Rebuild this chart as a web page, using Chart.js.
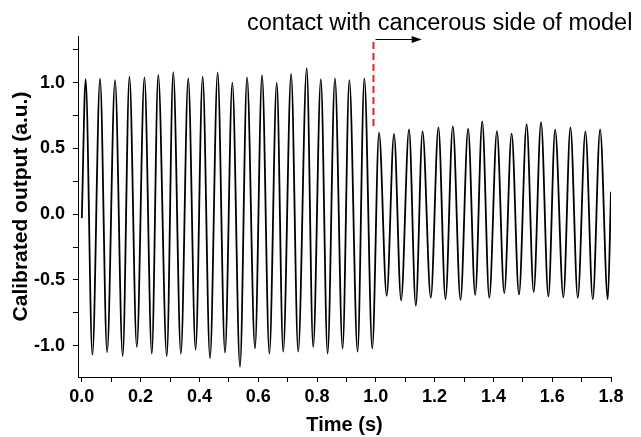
<!DOCTYPE html>
<html>
<head>
<meta charset="utf-8">
<script src="https://cdn.jsdelivr.net/npm/chart.js@4/dist/chart.umd.min.js"></script>
<style>
  body { margin: 0; background: #fff; }
  #wrap { width: 641px; height: 437px; }
</style>
</head>
<body>
<div id="wrap"><canvas id="signalChart" width="641" height="437"></canvas></div>
<script>
//Peaks and troughs of the calibrated output
const timeS = [
  0.000, 0.013, 0.036, 0.062, 0.086, 0.113, 0.139, 0.162, 0.187, 0.213,
  0.238, 0.260, 0.289, 0.311, 0.337, 0.362, 0.387, 0.411, 0.436, 0.462,
  0.487, 0.512, 0.538, 0.562, 0.589, 0.613, 0.638, 0.663, 0.685, 0.712,
  0.736, 0.765, 0.787, 0.813, 0.836, 0.861, 0.887, 0.910, 0.938, 0.961,
  0.988, 1.011, 1.037, 1.062, 1.086, 1.113, 1.136, 1.159, 1.187, 1.213,
  1.237, 1.262, 1.288, 1.314, 1.338, 1.362, 1.386, 1.412, 1.437, 1.462,
  1.487, 1.513, 1.537, 1.562, 1.587, 1.610, 1.638, 1.662, 1.687, 1.713,
  1.738, 1.763, 1.789, 1.800
];
const outputAU = [
  -0.03, 1.026, -1.07, 1.03, -1.05, 1.02, -1.08, 1.045, -1.01, 1.04,
  -1.06, 1.06, -1.08, 1.08, -1.06, 1.033, -1.03, 1.046, -1.096, 1.076,
  -1.053, 1.0, -1.16, 1.04, -1.02, 1.058, -1.06, 1.0, -1.045, 1.066,
  -1.045, 1.11, -1.01, 1.026, -1.06, 1.033, -1.02, 1.02, -1.045, 1.033,
  -1.02, 0.62, -0.62, 0.61, -0.655, 0.645, -0.695, 0.63, -0.635, 0.66,
  -0.647, 0.668, -0.652, 0.65, -0.614, 0.705, -0.636, 0.632, -0.6, 0.612,
  -0.612, 0.685, -0.592, 0.70, -0.625, 0.642, -0.632, 0.66, -0.636, 0.63,
  -0.646, 0.645, -0.647, 0.17
];

//Tick positions
const xTickValues = [0.0, 0.1, 0.2, 0.3, 0.4, 0.5, 0.6, 0.7, 0.8, 0.9, 1.0, 1.1, 1.2, 1.3, 1.4, 1.5, 1.6, 1.7, 1.8];
const xTickLabels = ['0.0', '', '0.2', '', '0.4', '', '0.6', '', '0.8', '', '1.0', '', '1.2', '', '1.4', '', '1.6', '', '1.8'];
const yTickValues = [-1.0, -0.75, -0.5, -0.25, 0.0, 0.25, 0.5, 0.75, 1.0, 1.25];
const yTickLabels = ['-1.0', '', '-0.5', '', '0.0', '', '0.5', '', '1.0', ''];

//Contact marker (time, output range) and arrow
const contactTime = 0.992;
const contactRange = [0.64, 1.31];
const arrowTimes = [0.999, 1.156];
const arrowLevel = 1.335;
const noteText = 'contact with cancerous side of model';
const notePos = [0.562, 1.40];

const FONT = '"Liberation Sans", Arial, sans-serif';

//Draw the red dashed line, arrow and note
const contactPlugin = {
  id: 'contact',
  afterDraw(chart) {
    const ctx = chart.ctx;
    const xs = chart.scales.x;
    const ys = chart.scales.y;
    ctx.save();
    const mx = xs.getPixelForValue(contactTime);
    ctx.strokeStyle = '#e8202a';
    ctx.lineWidth = 2;
    ctx.setLineDash([7, 4]);
    ctx.beginPath();
    ctx.moveTo(mx, ys.getPixelForValue(contactRange[1]));
    ctx.lineTo(mx, ys.getPixelForValue(contactRange[0]));
    ctx.stroke();
    ctx.setLineDash([]);

    const ay = Math.round(ys.getPixelForValue(arrowLevel)) + 0.5;
    const a0 = xs.getPixelForValue(arrowTimes[0]);
    const a1 = xs.getPixelForValue(arrowTimes[1]);
    ctx.strokeStyle = '#000';
    ctx.fillStyle = '#000';
    ctx.lineWidth = 1.2;
    ctx.beginPath();
    ctx.moveTo(a0, ay);
    ctx.lineTo(a1 - 6, ay);
    ctx.stroke();
    ctx.beginPath();
    ctx.moveTo(a1, ay);
    ctx.lineTo(a1 - 10, ay - 3.5);
    ctx.lineTo(a1 - 10, ay + 3.5);
    ctx.closePath();
    ctx.fill();

    ctx.font = '23.5px ' + FONT;
    ctx.textAlign = 'left';
    ctx.textBaseline = 'alphabetic';
    ctx.fillText(noteText, xs.getPixelForValue(notePos[0]), ys.getPixelForValue(notePos[1]));
    ctx.restore();
  }
};

const signalChart = new Chart('signalChart', {
  type: 'line',
  data: {
    datasets: [{
      data: timeS.map((t, i) => ({ x: t, y: outputAU[i] })),
      borderColor: '#000',
      borderWidth: 1.8,
      pointRadius: 0,
      cubicInterpolationMode: 'monotone',
      fill: false
    }]
  },
  options: {
    responsive: false,
    animation: false,
    layout: { padding: { top: 36, right: 30, left: 0, bottom: 0 } },
    plugins: { legend: { display: false }, tooltip: { enabled: false } },
    scales: {
      x: {
        type: 'linear',
        min: -0.013,
        max: 1.8,
        afterFit(scale) { scale.height = 60; },
        afterBuildTicks(scale) { scale.ticks = xTickValues.map(v => ({ value: v })); },
        grid: { drawOnChartArea: false, tickLength: 5, color: '#000', tickWidth: 1 },
        border: { display: true, color: '#000', width: 1 },
        ticks: {
          color: '#000',
          padding: 4,
          maxRotation: 0,
          autoSkip: false,
          font: { family: FONT, size: 18, weight: 'bold' },
          callback: (v, i) => xTickLabels[i]
        },
        title: {
          display: true,
          text: 'Time (s)',
          color: '#000',
          font: { family: FONT, size: 20, weight: 'bold' },
          padding: { top: 0, bottom: 0 }
        }
      },
      y: {
        min: -1.238,
        max: 1.355,
        afterFit(scale) { scale.width = 78; },
        afterBuildTicks(scale) { scale.ticks = yTickValues.map(v => ({ value: v })); },
        grid: { drawOnChartArea: false, tickLength: 5, color: '#000', tickWidth: 1 },
        border: { display: true, color: '#000', width: 1 },
        ticks: {
          color: '#000',
          padding: 8,
          autoSkip: false,
          font: { family: FONT, size: 18, weight: 'bold' },
          callback: (v, i) => yTickLabels[i]
        },
        title: {
          display: true,
          text: 'Calibrated output (a.u.)',
          color: '#000',
          font: { family: FONT, size: 21, weight: 'bold' },
          padding: { top: 9, bottom: 0 }
        }
      }
    }
  },
  plugins: [contactPlugin]
});
</script>
</body>
</html>
